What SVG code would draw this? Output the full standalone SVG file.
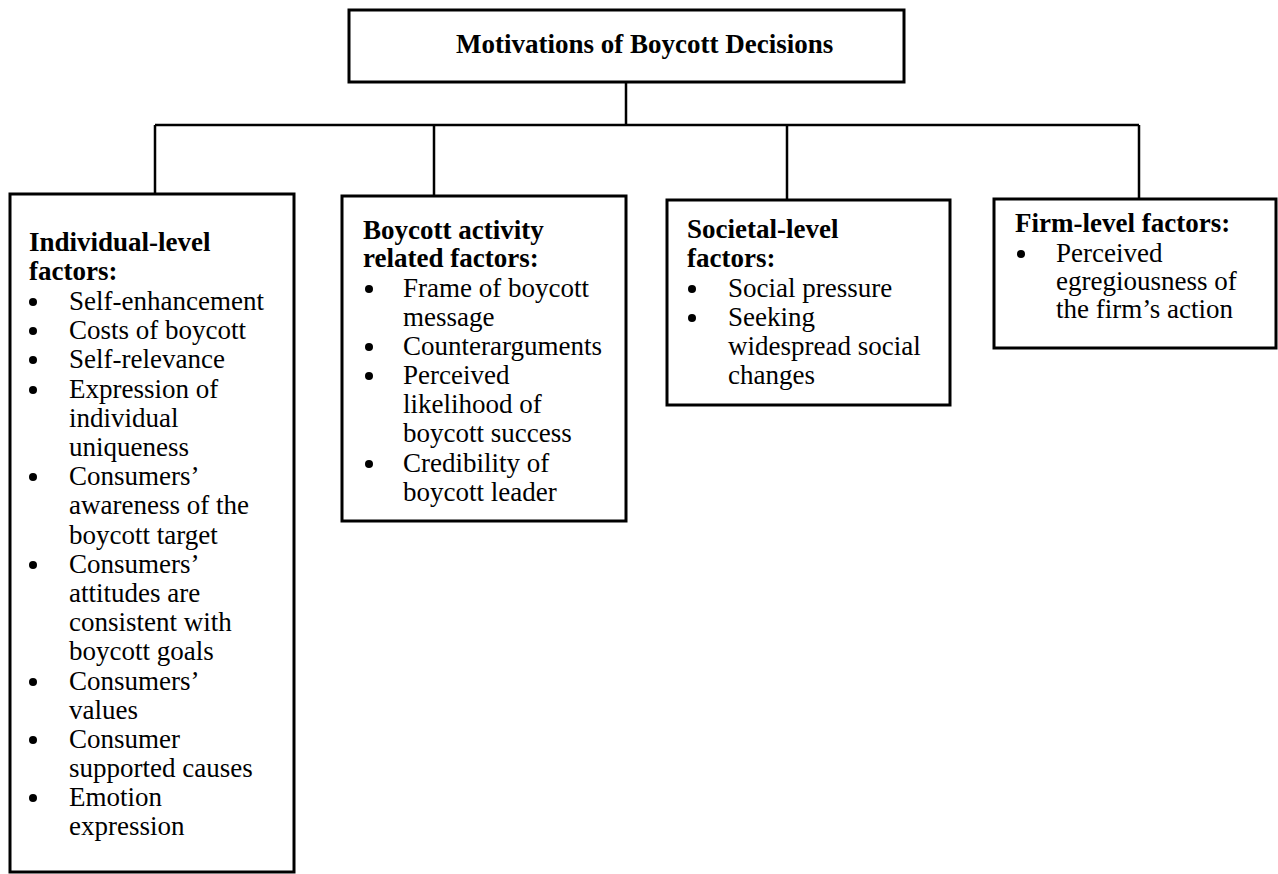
<svg xmlns="http://www.w3.org/2000/svg" width="1278" height="874" viewBox="0 0 1278 874">
<style>
.box{fill:#fff;stroke:#000;stroke-width:3}
.ln{fill:none;stroke:#000;stroke-width:2.5}
text{font-family:"Liberation Serif","Times New Roman",serif;font-size:27px;fill:#000}
.b{font-weight:bold}
.dot{fill:#000}
</style>
<rect width="1278" height="874" fill="#fff"/>
<g id="connectors">
<path class="ln" d="M626 82 V125 M155 125 H1139 M155 125 V194 M434 125 V196 M787 125 V200 M1139 125 V199"/>
</g>
<g id="root">
<rect class="box" x="349" y="10" width="555" height="72"/>
<text class="b" x="456" y="53">Motivations of Boycott Decisions</text>
</g>
<g id="individual">
<rect class="box" x="10" y="194" width="284" height="678"/>
<text class="b" x="29" y="251">Individual-level</text>
<text class="b" x="29" y="280">factors:</text>
<circle class="dot" cx="33" cy="302" r="4"/><text x="69" y="310">Self-enhancement</text>
<circle class="dot" cx="33" cy="331" r="4"/><text x="69" y="339">Costs of boycott</text>
<circle class="dot" cx="33" cy="360" r="4"/><text x="69" y="368">Self-relevance</text>
<circle class="dot" cx="33" cy="390" r="4"/><text x="69" y="398">Expression of</text>
<text x="69" y="427">individual</text>
<text x="69" y="456">uniqueness</text>
<circle class="dot" cx="33" cy="477" r="4"/><text x="69" y="485">Consumers’</text>
<text x="69" y="514">awareness of the</text>
<text x="69" y="544">boycott target</text>
<circle class="dot" cx="33" cy="565" r="4"/><text x="69" y="573">Consumers’</text>
<text x="69" y="602">attitudes are</text>
<text x="69" y="631">consistent with</text>
<text x="69" y="660">boycott goals</text>
<circle class="dot" cx="33" cy="682" r="4"/><text x="69" y="690">Consumers’</text>
<text x="69" y="719">values</text>
<circle class="dot" cx="33" cy="740" r="4"/><text x="69" y="748">Consumer</text>
<text x="69" y="777">supported causes</text>
<circle class="dot" cx="33" cy="798" r="4"/><text x="69" y="806">Emotion</text>
<text x="69" y="835">expression</text>
</g>
<g id="boycott-activity">
<rect class="box" x="342" y="196" width="284" height="325"/>
<text class="b" x="363" y="239">Boycott activity</text>
<text class="b" x="363" y="267">related factors:</text>
<circle class="dot" cx="369" cy="289" r="4"/><text x="403" y="297">Frame of boycott</text>
<text x="403" y="326">message</text>
<circle class="dot" cx="369" cy="347" r="4"/><text x="403" y="355">Counterarguments</text>
<circle class="dot" cx="369" cy="376" r="4"/><text x="403" y="384">Perceived</text>
<text x="403" y="413">likelihood of</text>
<text x="403" y="442">boycott success</text>
<circle class="dot" cx="369" cy="464" r="4"/><text x="403" y="472">Credibility of</text>
<text x="403" y="501">boycott leader</text>
</g>
<g id="societal">
<rect class="box" x="667" y="200" width="283" height="205"/>
<text class="b" x="687" y="238">Societal-level</text>
<text class="b" x="687" y="267">factors:</text>
<circle class="dot" cx="692" cy="289" r="4"/><text x="728" y="297">Social pressure</text>
<circle class="dot" cx="692" cy="318" r="4"/><text x="728" y="326">Seeking</text>
<text x="728" y="355">widespread social</text>
<text x="728" y="384">changes</text>
</g>
<g id="firm">
<rect class="box" x="994" y="199" width="282" height="149"/>
<text class="b" x="1015" y="232">Firm-level factors:</text>
<circle class="dot" cx="1021" cy="254" r="4"/><text x="1056" y="262">Perceived</text>
<text x="1056" y="290">egregiousness of</text>
<text x="1056" y="318">the firm’s action</text>
</g>
</svg>
